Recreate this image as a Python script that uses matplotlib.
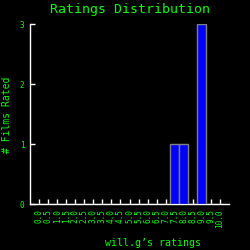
import matplotlib
matplotlib.use('Agg')
import matplotlib.pyplot as plt

# Dados do gráfico
notas = ['0.0', '0.5', '1.0', '1.5', '2.0', '2.5', '3.0', '3.5', '4.0', '4.5',
         '5.0', '5.5', '6.0', '6.5', '7.0', '7.5', '8.0', '8.5', '9.0', '9.5', '10.0']
contagem = [0, 0, 0, 0, 0, 0, 0, 0, 0, 0,
            0, 0, 0, 0, 0, 1, 1, 0, 3, 0, 0]
y_ticks = [0, 1, 2, 3]

verde = '#00ff00'
plt.rcParams['font.family'] = 'DejaVu Sans Mono'

fig = plt.figure(figsize=(2.5, 2.5), dpi=100, facecolor='black')
ax = fig.add_axes([30 / 250, 46 / 250, 199 / 250, 180 / 250])
ax.set_facecolor('black')

pos = list(range(len(notas)))
ax.bar(pos, contagem, width=1.0, color='#0000ff', edgecolor='#808080', linewidth=1, zorder=3)

ax.set_xlim(-1, len(notas))
ax.set_ylim(0, 3)
ax.set_xticks(pos)
ax.set_xticklabels(notas, rotation=90, fontsize=5.6, color=verde)
ax.set_yticks(y_ticks)
ax.set_yticklabels([str(v) for v in y_ticks], fontsize=5.5, color=verde)

ax.tick_params(axis='both', direction='in', colors='white', length=3.5, width=1, pad=4)
for lbl in ax.get_xticklabels() + ax.get_yticklabels():
    lbl.set_color(verde)

for lado in ['top', 'right']:
    ax.spines[lado].set_visible(False)
for lado in ['left', 'bottom']:
    ax.spines[lado].set_color('white')
    ax.spines[lado].set_linewidth(1)

fig.text(129.5 / 250, 1 - 9 / 250, 'Ratings Distribution', color=verde,
         fontsize=9.5, ha='center', va='center')
fig.text(153 / 250, 1 - 243 / 250, 'will.g’s ratings', color=verde,
         fontsize=7.2, ha='center', va='center')
fig.text(7 / 250, 1 - 115 / 250, '# Films Rated', color=verde,
         fontsize=7, ha='center', va='center', rotation=90)

fig.savefig('out.png', dpi=100, facecolor='black')
